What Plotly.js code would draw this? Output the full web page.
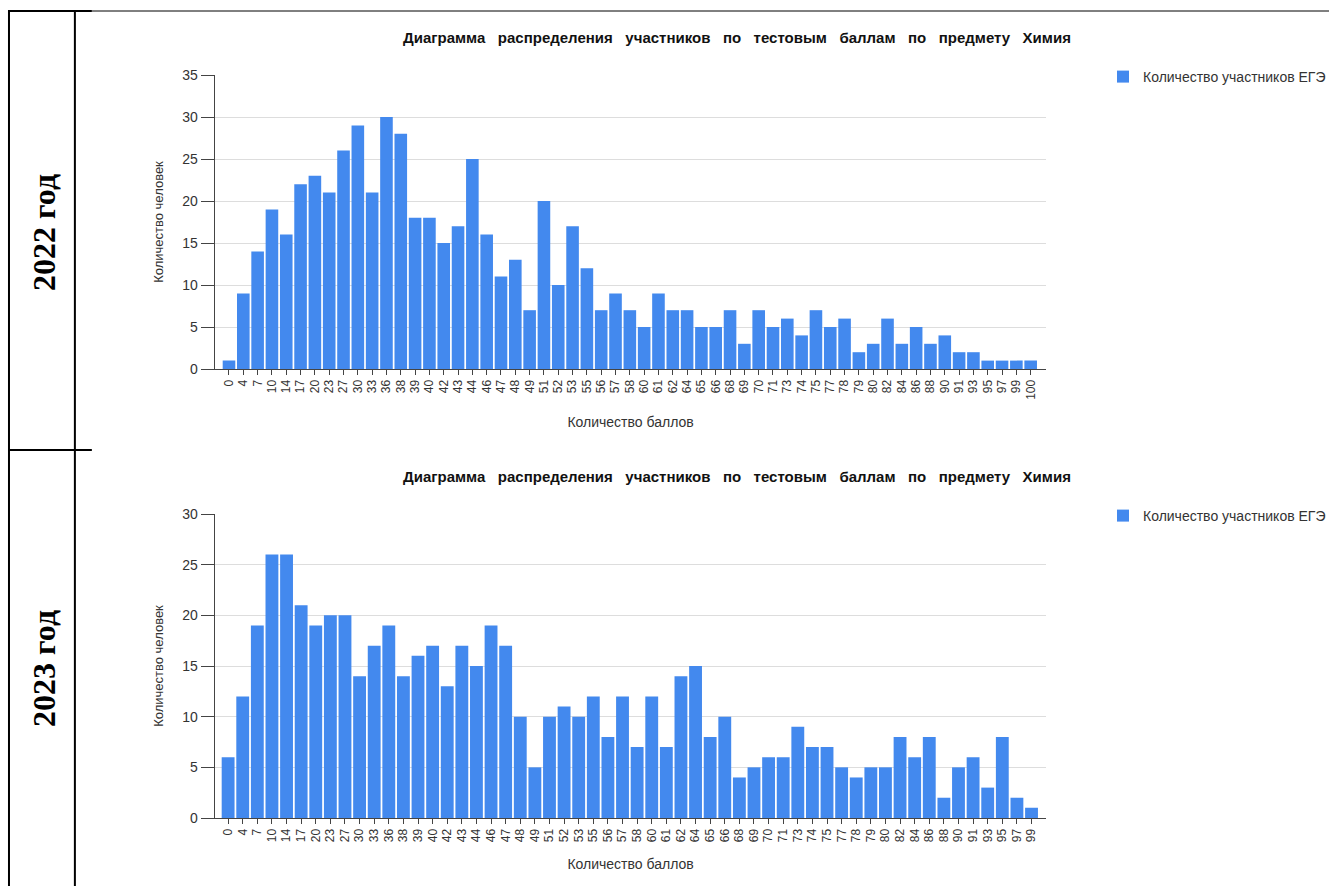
<!DOCTYPE html>
<html>
<head>
<meta charset="utf-8">
<script src="https://cdn.plot.ly/plotly-3.0.1.min.js"></script>
<style>
html,body{margin:0;padding:0;background:#fff;}
#chart{width:1331px;height:886px;}
</style>
</head>
<body>
<div id="chart"></div>
<script>
// ---- data ----
const scores2022 = ["0","4","7","10","14","17","20","23","27","30","33","36","38","39","40","42","43","44","46","47","48","49","51","52","53","55","56","57","58","60","61","62","64","65","66","68","69","70","71","73","74","75","77","78","79","80","82","84","86","88","90","91","93","95","97","99","100"];
const counts2022 = [1,9,14,19,16,22,23,21,26,29,21,30,28,18,18,15,17,25,16,11,13,7,20,10,17,12,7,9,7,5,9,7,7,5,5,7,3,7,5,6,4,7,5,6,2,3,6,3,5,3,4,2,2,1,1,1,1];

const scores2023 = ["0","4","7","10","14","17","20","23","27","30","33","36","38","39","40","42","43","44","46","47","48","49","51","52","53","55","56","57","58","60","61","62","64","65","66","68","69","70","71","73","74","75","77","78","79","80","82","84","86","88","90","91","93","95","97","99"];
const counts2023 = [6,12,19,26,26,21,19,20,20,14,17,19,14,16,17,13,17,15,19,17,10,5,10,11,10,12,8,12,7,12,7,14,15,8,10,4,5,6,6,9,7,7,5,4,5,5,8,6,8,2,5,6,3,8,2,1];

const chartTitle = "Диаграмма   распределения   участников   по   тестовым   баллам   по   предмету   Химия";
const seriesName = "Количество участников ЕГЭ";
const yTitle = "Количество человек";
const xTitle = "Количество баллов";
const rowLabels = ["2022 год", "2023 год"];

// ---- layout helpers ----
const W = 1331, H = 886;
const px = x => x / W;
const py = y => 1 - y / H;
const BLUE = "#4389EE";
const TXT = "#333333";
const FONT = "Arial, Liberation Sans";

const traces = [
  {type:"bar", x:scores2022, y:counts2022, name:seriesName, marker:{color:BLUE},
   xaxis:"x", yaxis:"y", legend:"legend", hoverinfo:"x+y"},
  {type:"bar", x:scores2023, y:counts2023, name:seriesName, marker:{color:BLUE},
   xaxis:"x2", yaxis:"y2", legend:"legend2", hoverinfo:"x+y"}
];

const xCommon = {
  type:"category", showgrid:false, showline:true, linecolor:"#444", linewidth:1,
  ticks:"outside", ticklen:5, tickcolor:"#444", tickangle:-90,
  tickfont:{family:FONT, size:12, color:TXT},
  automargin:false, zeroline:false, fixedrange:true
};
const yCommon = {
  showgrid:true, gridcolor:"#dddddd", gridwidth:1, showline:true, linecolor:"#444", linewidth:1,
  ticks:"outside", ticklen:13, tickcolor:"#444", dtick:5,
  tickfont:{family:FONT, size:14, color:TXT},
  automargin:false, zeroline:false, fixedrange:true
};

const shapeLine = (x0,y0,x1,y1,w) => ({type:"line", xref:"paper", yref:"paper",
  x0:px(x0), y0:py(y0), x1:px(x1), y1:py(y1), line:{color:"#000", width:w}});

const legendStyle = {xanchor:"left", yanchor:"top", bgcolor:"rgba(0,0,0,0)",
  font:{family:FONT, size:14, color:TXT}, itemwidth:30};

const layout = {
  width:W, height:H,
  margin:{l:0, r:0, t:0, b:0},
  paper_bgcolor:"#fff", plot_bgcolor:"#fff",
  font:{family:FONT, color:TXT},
  bargap:0.12,
  xaxis: Object.assign({}, xCommon, {domain:[px(215), px(1048)], anchor:"y", range:[-1.0, 57.1],
    title:{text:xTitle, font:{size:14, color:TXT}, standoff:18}}),
  yaxis: Object.assign({}, yCommon, {domain:[py(369), py(75)], anchor:"x", range:[0,35],
    title:{text:yTitle, font:{size:13, color:TXT}, standoff:15}}),
  xaxis2: Object.assign({}, xCommon, {domain:[px(215), px(1048)], anchor:"y2", range:[-0.92, 56.02],
    title:{text:xTitle, font:{size:14, color:TXT}, standoff:18}}),
  yaxis2: Object.assign({}, yCommon, {domain:[py(818), py(514)], anchor:"x2", range:[0,30],
    title:{text:yTitle, font:{size:13, color:TXT}, standoff:15}}),
  showlegend:true,
  legend: Object.assign({x:px(1105), y:py(61)}, legendStyle),
  legend2: Object.assign({x:px(1105), y:py(500)}, legendStyle),
  annotations:[
    {text:"<b>"+chartTitle+"</b>", xref:"paper", yref:"paper", x:px(738), y:py(37),
     xanchor:"center", yanchor:"middle", showarrow:false,
     font:{family:FONT, size:15, color:"#111"}},
    {text:"<b>"+chartTitle+"</b>", xref:"paper", yref:"paper", x:px(738), y:py(476),
     xanchor:"center", yanchor:"middle", showarrow:false,
     font:{family:FONT, size:15, color:"#111"}},
    {text:"<b>"+rowLabels[0]+"</b>", xref:"paper", yref:"paper", x:px(44), y:py(232),
     xanchor:"center", yanchor:"middle", showarrow:false, textangle:-90,
     font:{family:"Times New Roman, Liberation Serif", size:32, color:"#000"}},
    {text:"<b>"+rowLabels[1]+"</b>", xref:"paper", yref:"paper", x:px(44), y:py(668),
     xanchor:"center", yanchor:"middle", showarrow:false, textangle:-90,
     font:{family:"Times New Roman, Liberation Serif", size:32, color:"#000"}}
  ],
  shapes:[
    shapeLine(9,11,92,11,2),
    shapeLine(92,11,1331,11,1),
    shapeLine(9,10,9,886,2),
    shapeLine(75,10,75,886,2),
    shapeLine(9,450,92,450,2)
  ]
};

Plotly.newPlot("chart", traces, layout, {displayModeBar:false, staticPlot:true});
</script>
</body>
</html>
